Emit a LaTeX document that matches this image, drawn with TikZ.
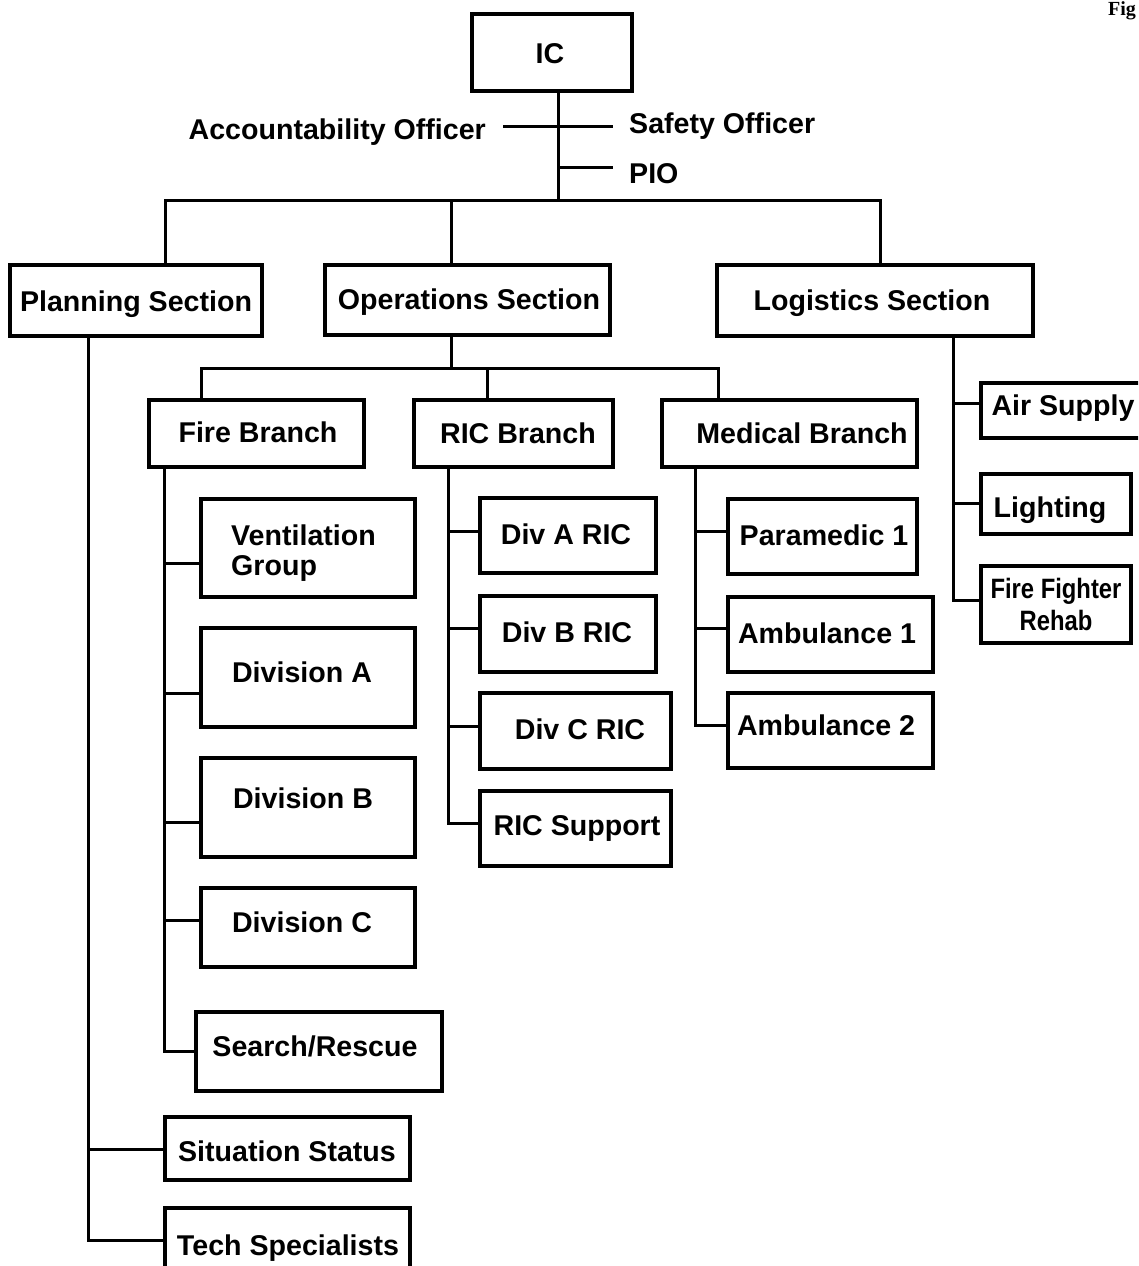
\documentclass[tikz,border=0pt]{standalone}
\usepackage{fontspec}
\setmainfont{Liberation Sans}
\newfontfamily\figserif{Liberation Serif}
\usetikzlibrary{fit}
\tikzset{
  box/.style={draw=black, line width=3.2pt, inner sep=0pt, rectangle},
  ln/.style={draw=black, line width=3pt, line join=miter},
  lbl/.style={inner sep=0pt, anchor=base, font=\bfseries\fontsize{28.6}{30}\selectfont},
}
\newcommand\bx[5]{\node[box, fit={(#2,#3) (#4,#5)}] (#1) {};}
\begin{document}
\begin{tikzpicture}[x=1pt,y=-1pt]
\clip (0,0) rectangle (1138,1266);
\fill[white] (0,0) rectangle (1138,1266);

% ---- boxes ----
\bx{IC}{472}{14}{632}{91}
\bx{Plan}{10}{265}{262}{336}
\bx{Ops}{325}{265}{610}{335}
\bx{Log}{717}{265}{1033}{336}
\bx{Fire}{149}{400}{364}{467}
\bx{RIC}{414}{400}{613}{467}
\bx{Med}{662}{400}{917}{467}
\bx{Vent}{201}{499}{415}{597}
\bx{DivA}{201}{628}{415}{727}
\bx{DivB}{201}{758}{415}{857}
\bx{DivC}{201}{888}{415}{967}
\bx{Search}{196}{1012}{442}{1091}
\bx{Sit}{165}{1117}{410}{1180}
\bx{Tech}{165}{1208}{410}{1275}
\bx{DARIC}{480}{498}{656}{573}
\bx{DBRIC}{480}{596}{656}{672}
\bx{DCRIC}{480}{693}{671}{769}
\bx{RSup}{480}{791}{671}{866}
\bx{Para}{728}{499}{917}{574}
\bx{AmbA}{728}{597}{933}{672}
\bx{AmbB}{728}{693}{933}{768}
\bx{Air}{981}{383}{1145}{438}
\bx{Light}{981}{474}{1131}{534}
\bx{Rehab}{981}{566}{1131}{643}

% ---- texts ----
\node[lbl] (tIC) at (550,63) {IC};
\node[lbl, anchor=base east] (tAO) at (486,139) {Accountability Officer};
\node[lbl, anchor=base west] (tSO) at (629,133) {Safety Officer};
\node[lbl, anchor=base west] (tPIO) at (629,183) {PIO};
\node[lbl] (tPlan) at (136,311) {Planning Section};
\node[lbl] (tOps) at (469,309) {Operations Section};
\node[lbl] (tLog) at (872,310) {Logistics Section};
\node[lbl] (tFire) at (258,442) {Fire Branch};
\node[lbl] (tRIC) at (518,443) {RIC Branch};
\node[lbl] (tMed) at (802,443) {Medical Branch};
\node[lbl, anchor=north west, align=left] (tVent) at (231,524)
  {\begin{tabular}{@{}l@{}}Ventilation\\Group\end{tabular}};
\node[lbl] (tDivA) at (302,682) {Division A};
\node[lbl] (tDivB) at (303,808) {Division B};
\node[lbl] (tDivC) at (302,932) {Division C};
\node[lbl] (tSearch) at (315,1056) {Search/Rescue};
\node[lbl] (tSit) at (287,1161) {Situation Status};
\node[lbl] (tTech) at (288,1255) {Tech Specialists};
\node[lbl] (tDARIC) at (566,544) {Div A RIC};
\node[lbl] (tDBRIC) at (567,642) {Div B RIC};
\node[lbl] (tDCRIC) at (580,739) {Div C RIC};
\node[lbl] (tRSup) at (577,835) {RIC Support};
\node[lbl] (tPara) at (824,545) {Paramedic 1};
\node[lbl] (tAmbA) at (827,643) {Ambulance 1};
\node[lbl] (tAmbB) at (826,735) {Ambulance 2};
\node[lbl] (tAir) at (1063,415) {Air Supply};
\node[lbl] (tLight) at (1050,517) {Lighting};
\node[inner sep=0pt, anchor=center, font=\bfseries\fontsize{28}{32}\selectfont] (tRehab) at (1056,608)
  {\scalebox{0.85}[1]{\begin{tabular}{@{}c@{}}Fire Fighter\\Rehab\end{tabular}}};
\node[inner sep=0pt, anchor=base east, font=\figserif\bfseries\fontsize{20}{22}\selectfont] (tFig) at (1136,16) {Fig};

% ---- top connectors ----
\coordinate (icb) at (558,200);
\draw[ln] (IC.south -| icb) -- (icb);
\coordinate (acL) at (503,126);
\coordinate (acR) at (613,126);
\draw[ln] (acL) -- (acR);
\coordinate (pioR) at (613,167);
\draw[ln] (pioR -| icb) -- (pioR);

\coordinate (bL) at (165,200);
\coordinate (bR) at (880,200);
\coordinate (bM) at (451,200);
\draw[ln] (Plan.north -| bL) -- (bL) -- (bR) -- (Log.north -| bR);
\draw[ln] (bM) -- (Ops.north -| bM);

% ---- operations ----
\coordinate (oT) at (451,368);
\coordinate (oL) at (201,368);
\coordinate (oR) at (718,368);
\coordinate (oM) at (487,368);
\draw[ln] (Ops.south -| oT) -- (oT);
\draw[ln] (Fire.north -| oL) -- (oL) -- (oR) -- (Med.north -| oR);
\draw[ln] (oM) -- (RIC.north -| oM);

% ---- fire branch ----
\coordinate (f1) at (164,563);
\coordinate (f2) at (164,693);
\coordinate (f3) at (164,822);
\coordinate (f4) at (164,920);
\coordinate (f5) at (164,1051);
\draw[ln] (Fire.south -| f1) -- (f5) -- (Search.west |- f5);
\draw[ln] (f1) -- (Vent.west |- f1);
\draw[ln] (f2) -- (DivA.west |- f2);
\draw[ln] (f3) -- (DivB.west |- f3);
\draw[ln] (f4) -- (DivC.west |- f4);

% ---- RIC branch ----
\coordinate (r1) at (448,531);
\coordinate (r2) at (448,628);
\coordinate (r3) at (448,726);
\coordinate (r4) at (448,823);
\draw[ln] (RIC.south -| r1) -- (r4) -- (RSup.west |- r4);
\draw[ln] (r1) -- (DARIC.west |- r1);
\draw[ln] (r2) -- (DBRIC.west |- r2);
\draw[ln] (r3) -- (DCRIC.west |- r3);

% ---- medical branch ----
\coordinate (m1) at (695,531);
\coordinate (m2) at (695,628);
\coordinate (m3) at (695,725);
\draw[ln] (Med.south -| m1) -- (m3) -- (AmbB.west |- m3);
\draw[ln] (m1) -- (Para.west |- m1);
\draw[ln] (m2) -- (AmbA.west |- m2);

% ---- logistics ----
\coordinate (l1) at (953,403);
\coordinate (l2) at (953,503);
\coordinate (l3) at (953,600);
\draw[ln] (Log.south -| l1) -- (l3) -- (Rehab.west |- l3);
\draw[ln] (l1) -- (Air.west |- l1);
\draw[ln] (l2) -- (Light.west |- l2);

% ---- planning ----
\coordinate (p1) at (88,1149);
\coordinate (p2) at (88,1240);
\draw[ln] (Plan.south -| p1) -- (p2) -- (Tech.west |- p2);
\draw[ln] (p1) -- (Sit.west |- p1);
\end{tikzpicture}
\end{document}
